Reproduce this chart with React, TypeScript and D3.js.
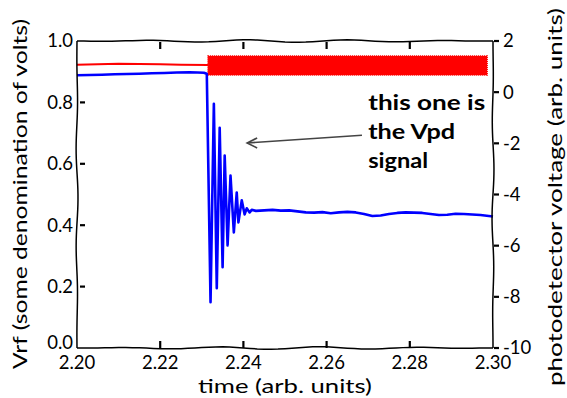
import React from "react";
import * as d3 from "d3";

// axis ticks
const timeTicks = [2.2, 2.22, 2.24, 2.26, 2.28, 2.3];
const vrfTicks = [0, 0.2, 0.4, 0.6, 0.8, 1.0];
const vpdTicks = [2, 0, -2, -4, -6, -8, -10];

// Vrf (left axis): quiet part, then the dense rf burst (drawn as its envelope)
const rfTime = [2.2, 2.205, 2.21, 2.215, 2.22, 2.225, 2.2315];
const rfValue = [0.923, 0.924, 0.926, 0.925, 0.924, 0.923, 0.922];
const burstTime = [2.2315, 2.25, 2.27, 2.2986];
const burstHigh = [0.951, 0.951, 0.951, 0.951];
const burstLow = [0.889, 0.889, 0.889, 0.889];

// Vpd (right axis)
const vpdTime = [
	2.2, 2.203, 2.206, 2.209, 2.212, 2.215, 2.218, 2.221, 2.224, 2.227, 2.229, 2.2305, 2.2312,
	2.2321, 2.2329, 2.2336, 2.2343, 2.235, 2.2355, 2.2362, 2.2369, 2.2377, 2.2384, 2.2388, 2.2396,
	2.2403, 2.2408, 2.2415, 2.242, 2.243, 2.245, 2.247, 2.249, 2.251, 2.253, 2.255, 2.257, 2.259,
	2.261, 2.263, 2.265, 2.267, 2.269, 2.271, 2.273, 2.275, 2.277, 2.279, 2.281, 2.283, 2.285,
	2.287, 2.289, 2.291, 2.293, 2.295, 2.297, 2.299, 2.3,
];
const vpdValue = [
	0.66, 0.67, 0.68, 0.7, 0.71, 0.72, 0.74, 0.75, 0.77, 0.78, 0.77, 0.76, 0.72,
	-8.21, -0.45, -7.66, -1.39, -6.84, -2.48, -5.99, -3.26, -5.48, -3.92, -5.09, -4.23,
	-4.78, -4.54, -4.7, -4.6, -4.64, -4.62, -4.6, -4.63, -4.62, -4.66, -4.7, -4.71, -4.69,
	-4.73, -4.7, -4.68, -4.7, -4.76, -4.84, -4.82, -4.76, -4.72, -4.7, -4.71, -4.72, -4.76,
	-4.8, -4.79, -4.75, -4.76, -4.78, -4.8, -4.84, -4.86,
];

const font = "Lato, 'DejaVu Sans', sans-serif";

const W = 567;
const H = 398;
const left = 77;
const right = 493;
const top = 41;
const bottom = 348;

// hand-drawn looking spine
const wobble = (x1: number, y1: number, x2: number, y2: number, amp: number, phase: number) => {
	const n = 60;
	const len = Math.hypot(x2 - x1, y2 - y1);
	const nx = -(y2 - y1) / len;
	const ny = (x2 - x1) / len;
	const pts: [number, number][] = [];
	for (let i = 0; i <= n; i++) {
		const f = i / n;
		const o = amp * Math.sin(f * len / 16 + phase) * Math.sin(f * Math.PI);
		pts.push([x1 + (x2 - x1) * f + nx * o, y1 + (y2 - y1) * f + ny * o]);
	}
	return d3.line()(pts) || "";
};

const App: React.FC = () => {
	const x = d3.scaleLinear().domain([2.2, 2.3]).range([left, right]);
	const yL = d3.scaleLinear().domain([0, 1]).range([bottom, top]);
	const yR = d3.scaleLinear().domain([-10, 2]).range([bottom, top]);

	const rfLine = d3
		.line<number>()
		.x((_, i) => x(rfTime[i]))
		.y((_, i) => yL(rfValue[i]))(rfValue);
	const burstArea = d3
		.area<number>()
		.x((_, i) => x(burstTime[i]))
		.y0((_, i) => yL(burstLow[i]))
		.y1((_, i) => yL(burstHigh[i]))(burstHigh);
	const vpdLine = d3
		.line<number>()
		.x((_, i) => x(vpdTime[i]))
		.y((_, i) => yR(vpdValue[i]))(vpdValue);

	// annotation arrow, in data coords
	const arrowFrom: [number, number] = [x(2.2685), yL(0.693)];
	const arrowTip: [number, number] = [x(2.2409), yL(0.668)];
	const arrowMid: [number, number] = [x(2.258), yL(0.683)];

	return (
		<svg width={W} height={H} style={{ position: "absolute", left: 0, top: 0, background: "#fff" }}>
			{/* series */}
			<path d={rfLine || ""} fill="none" stroke="#ff0000" strokeWidth={2} />
			<path d={burstArea || ""} fill="#ff0000" stroke="#ff0000" strokeWidth={1.5} strokeDasharray="1.2 0.8" />
			<path d={vpdLine || ""} fill="none" stroke="#0000ff" strokeWidth={2.6} strokeLinejoin="round" />

			{/* spines */}
			<g fill="none" stroke="#000" strokeWidth={1.5}>
				<path d={wobble(left, top, right, top, 1.3, 0.4)} />
				<path d={wobble(left, bottom, right, bottom, 1.3, 2.1)} />
				<path d={wobble(left, top, left, bottom, 1.0, 1.2)} />
				<path d={wobble(right, top, right, bottom, 1.0, 3.0)} />
			</g>

			{/* ticks: bottom/top/left inward, right outward */}
			<g stroke="#000" strokeWidth={2.2}>
				{timeTicks.slice(1, -1).map((t) => (
					<g key={t}>
						<line x1={x(t)} x2={x(t)} y1={bottom - 7} y2={bottom} />
						<line x1={x(t)} x2={x(t)} y1={top + 1} y2={top + 8} />
					</g>
				))}
				{vrfTicks.slice(1, -1).map((v) => (
					<line key={v} x1={left + 3} x2={left + 8} y1={yL(v)} y2={yL(v)} />
				))}
				{vpdTicks.map((v) => (
					<line key={v} x1={right + 1} x2={right + 6} y1={yR(v)} y2={yR(v)} />
				))}
			</g>

			{/* tick labels */}
			<g fontFamily={font} fontSize={18.5} fill="#000">
				{timeTicks.map((t) => (
					<text key={t} x={x(t)} y={bottom + 21} textAnchor="middle">
						{t.toFixed(2)}
					</text>
				))}
				{vrfTicks.map((v) => (
					<text key={v} x={left - 4} y={yL(v) - (v === 0 ? 5 : 0)} dy="0.35em" textAnchor="end">
						{v.toFixed(1)}
					</text>
				))}
				{vpdTicks.map((v) => (
					<text key={v} x={right + 10} y={yR(v)} dy="0.35em" textAnchor="start">
						{v < 0 ? "-" + Math.abs(v) : String(v)}
					</text>
				))}
			</g>

			{/* axis titles */}
			<g fontFamily={font} fontSize={19} fill="#000">
				<text x={(left + right) / 2} y={393} textAnchor="middle" textLength={174} lengthAdjust="spacingAndGlyphs">
					time (arb. units)
				</text>
				<text
					transform={`translate(27, 194) rotate(-90)`}
					textAnchor="middle"
					textLength={350}
					lengthAdjust="spacingAndGlyphs"
				>
					Vrf (some denomination of volts)
				</text>
				<text
					transform={`translate(562, 197) rotate(-90)`}
					textAnchor="middle"
					textLength={378}
					lengthAdjust="spacingAndGlyphs"
				>
					photodetector voltage (arb. units)
				</text>
			</g>

			{/* annotation */}
			<path
				d={`M${arrowFrom[0]},${arrowFrom[1]} Q${arrowMid[0]},${arrowMid[1]} ${arrowTip[0]},${arrowTip[1]}`}
				fill="none"
				stroke="#444"
				strokeWidth={1.6}
			/>
			<path
				d={`M${arrowTip[0] + 10},${arrowTip[1] - 5} L${arrowTip[0]},${arrowTip[1]} L${arrowTip[0] + 10},${arrowTip[1] + 5}`}
				fill="none"
				stroke="#444"
				strokeWidth={1.6}
			/>
			<g fontFamily={font} fontSize={21} fontWeight="bold" fill="#000">
				<text x={x(2.27)} y={yL(0.775)} textLength={117} lengthAdjust="spacingAndGlyphs">
					this one is
				</text>
				<text x={x(2.27)} y={yL(0.68)} textLength={87} lengthAdjust="spacingAndGlyphs">
					the Vpd
				</text>
				<text x={x(2.27)} y={yL(0.586)} textLength={60} lengthAdjust="spacingAndGlyphs">
					signal
				</text>
			</g>
		</svg>
	);
};

export default App;
